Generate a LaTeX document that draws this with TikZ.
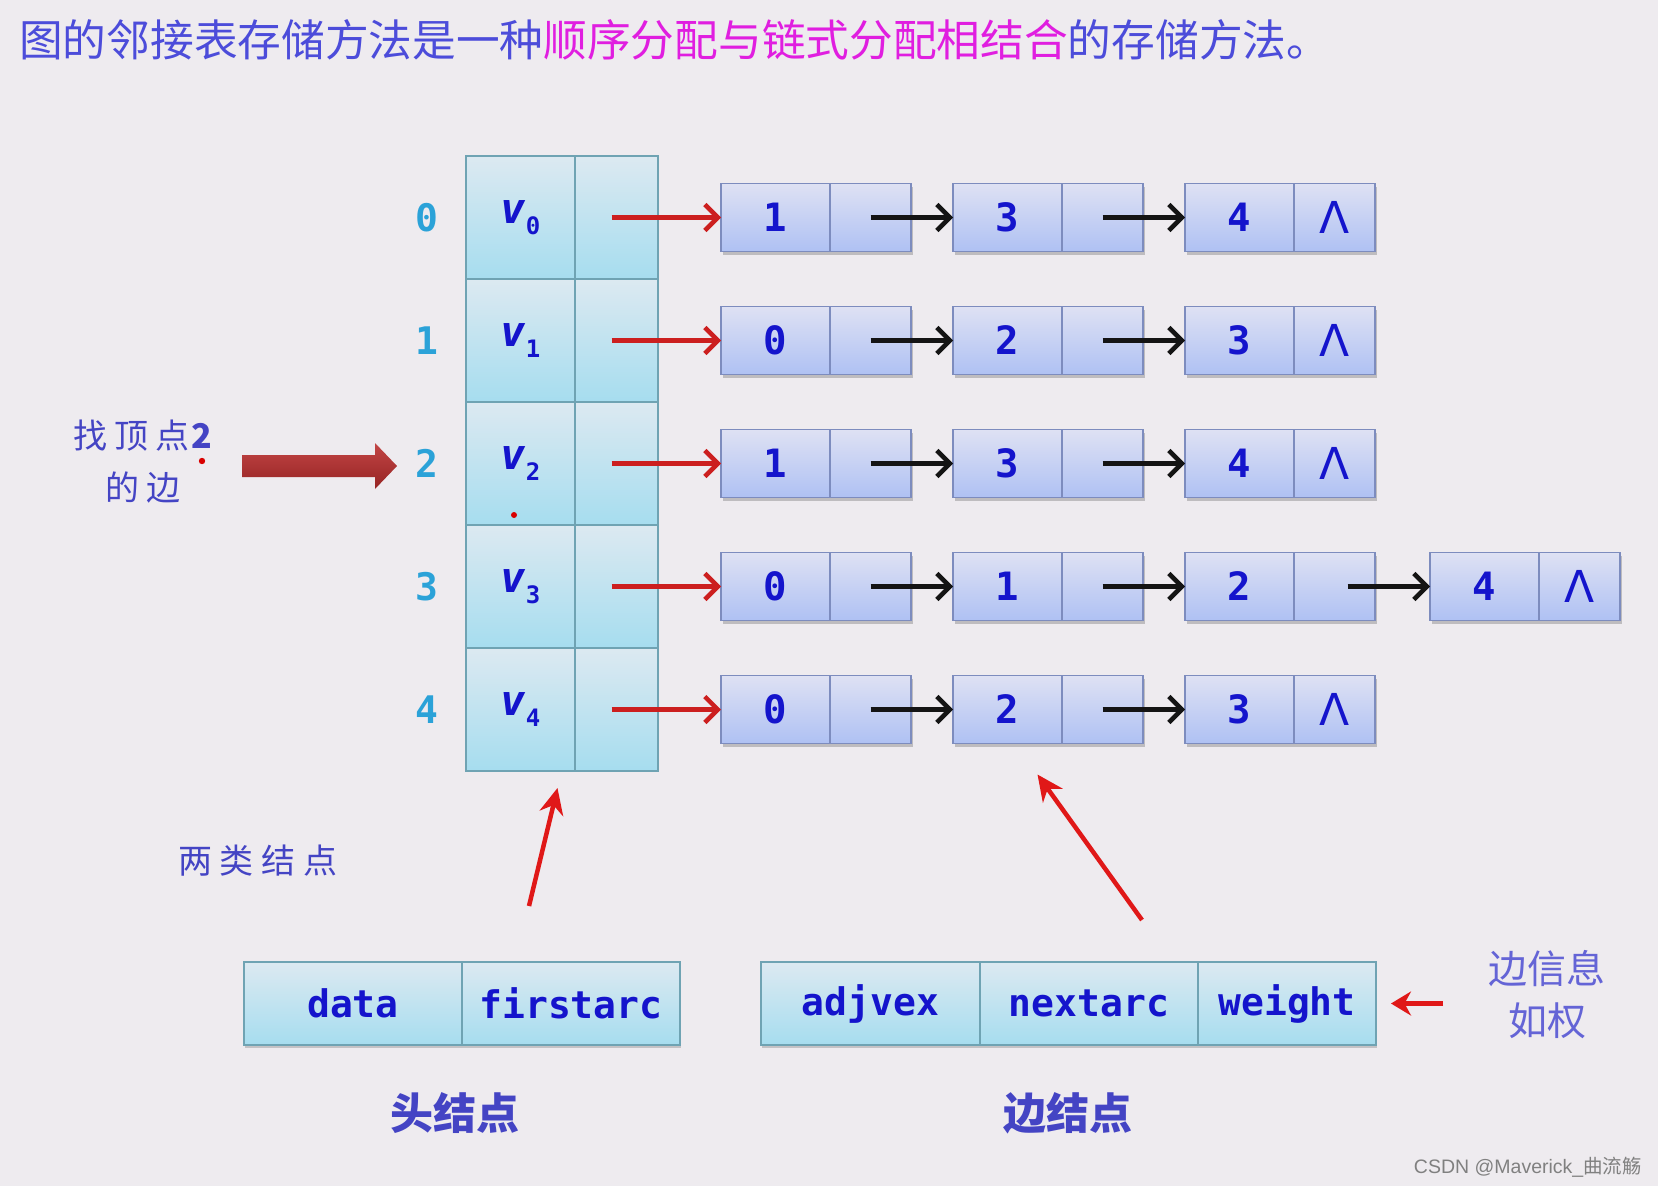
\documentclass[tikz,border=0pt]{standalone}
\usepackage{fontspec}
\usetikzlibrary{arrows.meta,shadows}
\newfontfamily\cjk{Noto Sans CJK SC}
\newfontfamily\mono{DejaVu Sans Mono}
\newfontfamily\dejavu{DejaVu Sans}
\newfontfamily\wm{Liberation Sans}
\definecolor{bg}{HTML}{EEEBEF}
\definecolor{htop}{HTML}{DCE9F1}
\definecolor{hbot}{HTML}{A6DDEF}
\definecolor{hbd}{HTML}{6FA3B3}
\definecolor{etop}{HTML}{DEE1F3}
\definecolor{ebot}{HTML}{AFC1F3}
\definecolor{ebd}{HTML}{7D8CBE}
\definecolor{txt}{HTML}{1414CC}
\definecolor{idx}{HTML}{2BA2D8}
\definecolor{ttlb}{HTML}{4C4CDA}
\definecolor{ttlm}{HTML}{E01EE0}
\definecolor{note}{HTML}{4444C4}
\definecolor{note2}{HTML}{6464D6}
\definecolor{arrred}{HTML}{CC1F1F}
\definecolor{ptrred}{HTML}{E01818}
\definecolor{bigtop}{HTML}{C24545}
\definecolor{bigbot}{HTML}{962424}
\newcommand\enode[4]{%
  \node[ecell,minimum width=109pt,anchor=west] (#1a) at (#2,#3) {#4};
  \node[ecell,minimum width=81pt,anchor=west] (#1b) at (#1a.east) {};}
\newcommand\enodeend[4]{%
  \node[ecell,minimum width=109pt,anchor=west] (#1a) at (#2,#3) {#4};
  \node[ecell,minimum width=81pt,anchor=west] (#1b) at (#1a.east) {\dejavu\mdseries\fontsize{44}{44}\selectfont Λ};}
\begin{document}
\begin{tikzpicture}[x=1pt,y=-1pt,
  hcell/.style={draw=hbd, line width=1.5pt, top color=htop, bottom color=hbot,
    inner sep=0pt, outer sep=0pt, text=txt, font=\mono\bfseries\fontsize{38}{38}\selectfont},
  bcell/.style={hcell, minimum height=83pt,
    drop shadow={shadow xshift=1pt, shadow yshift=-3pt, opacity=0.3, fill=black!60}},
  ecell/.style={draw=ebd, line width=1.5pt, top color=etop, bottom color=ebot,
    inner sep=0pt, outer sep=0pt, minimum height=68pt, text=txt,
    font=\mono\bfseries\fontsize{39}{39}\selectfont,
    drop shadow={shadow xshift=1.5pt, shadow yshift=-3pt, opacity=0.35, fill=black!60}},
  idxlab/.style={text=idx, font=\mono\bfseries\fontsize{38}{38}\selectfont, inner sep=0pt},
  redarr/.style={draw=arrred, line width=4.5pt, -{Straight Barb[length=13pt,width=26pt]}},
  blkarr/.style={draw=black!92, line width=4.5pt, -{Straight Barb[length=13pt,width=26pt]}},
  ptr/.style={draw=ptrred, line width=4.5pt, -{Stealth[length=26pt,width=24pt]}},
  note/.style={text=note, font=\cjk\fontsize{34}{34}\selectfont, inner sep=0pt},
  lbl/.style={text=note, font=\cjk\bfseries\fontsize{43}{43}\selectfont, inner sep=0pt},
]
\fill[bg] (0,0) rectangle (1658,1186);
\useasboundingbox (0,0) rectangle (1658,1186);

% title
\node[anchor=west, inner sep=0pt, font=\cjk\fontsize{43.7}{43.7}\selectfont] (title) at (19,40)
  {\textcolor{ttlb}{图的邻接表存储方法是一种}\textcolor{ttlm}{顺序分配与链式分配相结合}\textcolor{ttlb}{的存储方法。}};

% head array
\foreach \i in {0,...,4} {
  \node[hcell, minimum width=109pt, minimum height=123pt, anchor=north west] (hd\i) at (466,{156+123*\i})
    {\raisebox{0.05em}{\itshape\fontsize{42}{42}\selectfont v}\raisebox{-0.25em}{\fontsize{24}{24}\selectfont\i}};
  \node[hcell, minimum width=83pt, minimum height=123pt, anchor=west] (hp\i) at (hd\i.east) {};
  \node[idxlab] (ix\i) at (427,{217.5+123*\i}) {\i};
}

% edge lists
\enode{r0-1}{721}{217.5}{1}\enode{r0-2}{953}{217.5}{3}\enodeend{r0-3}{1185}{217.5}{4}
\enode{r1-1}{721}{340.5}{0}\enode{r1-2}{953}{340.5}{2}\enodeend{r1-3}{1185}{340.5}{3}
\enode{r2-1}{721}{463.5}{1}\enode{r2-2}{953}{463.5}{3}\enodeend{r2-3}{1185}{463.5}{4}
\enode{r3-1}{721}{586.5}{0}\enode{r3-2}{953}{586.5}{1}\enode{r3-3}{1185}{586.5}{2}\enodeend{r3-4}{1430}{586.5}{4}
\enode{r4-1}{721}{709.5}{0}\enode{r4-2}{953}{709.5}{2}\enodeend{r4-3}{1185}{709.5}{3}

\foreach \i in {0,...,4} {
  \draw[redarr] ([xshift=-5pt]hp\i.center) -- (r\i-1a.west);
  \draw[blkarr] (r\i-1b.center) -- (r\i-2a.west);
  \draw[blkarr] (r\i-2b.center) -- (r\i-3a.west);
}
\draw[blkarr] ([xshift=13pt]r3-3b.center) -- (r3-4a.west);

% find vertex 2 note
\node[note] (find1) at (143,436) {找\hspace{7pt}顶\hspace{7pt}点\hspace{2pt}\textcolor{note}{\bfseries 2}};
\node[note] (find2) at (143,488) {的\hspace{7pt}边};
\shade[top color=bigtop, bottom color=bigbot]
  (242,455) -- (375,455) -- (375,443) -- (397,466) -- (375,489) -- (375,477) -- (242,477) -- cycle;
\fill[red!85!black] (202,461) circle (3.2);
\fill[red!85!black] (514,515) circle (3);

% two kinds of nodes
\node[note] (kinds) at (258,861) {两\hspace{8pt}类\hspace{8pt}结\hspace{8pt}点};

\node[bcell, minimum width=218pt, anchor=north west] (bdata) at (244,962) {data};
\node[bcell, minimum width=218pt, anchor=west] (bfirst) at (bdata.east) {firstarc};
\node[bcell, minimum width=219pt, anchor=north west] (badj) at (761,962) {adjvex};
\node[bcell, minimum width=218pt, anchor=west] (bnext) at (badj.east) {nextarc};
\node[bcell, minimum width=178pt, anchor=west] (bweight) at (bnext.east) {weight};

\node[lbl] (headlbl) at (455,1113) {头结点};
\node[lbl] (edgelbl) at (1068,1113) {边结点};

\node[text=note2, font=\cjk\fontsize{39}{39}\selectfont, inner sep=0pt] (info1) at (1547,969) {边信息};
\node[text=note2, font=\cjk\fontsize{39}{39}\selectfont, inner sep=0pt] (info2) at (1547,1021) {如权};

\coordinate (p1) at (529,906);
\coordinate (p2) at (1142,920);
\coordinate (p3) at (1443,1003.5);
\draw[ptr] (p1) -- ([xshift=37pt,yshift=-17pt]hd4.south);
\draw[ptr] (p2) -- ([xshift=30pt,yshift=-31pt]r4-2a.south);
\draw[ptr, line width=5pt, -{Stealth[length=20pt,width=24pt]}] (p3) -- ([xshift=15pt]bweight.east);

% watermark
\node[anchor=east, inner sep=0pt, text=black!50, font=\cjk\fontsize{19.5}{19.5}\selectfont] (wm) at (1642,1167)
  {{\wm CSDN @Maverick\_}曲流觞};
\end{tikzpicture}
\end{document}
